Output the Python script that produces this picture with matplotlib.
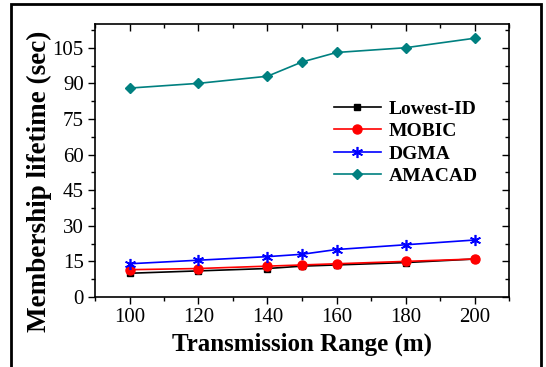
import matplotlib
matplotlib.use('Agg')
import matplotlib.pyplot as plt
from matplotlib.patches import Rectangle
from matplotlib.ticker import MultipleLocator

ranges = [100, 120, 140, 150, 160, 180, 200]
lowest_id = [10, 11, 12, 13, 13.5, 14.5, 16]
mobic = [11.5, 12, 13, 13.5, 14, 15, 16]
dgma = [14, 15.5, 17, 18, 20, 22, 24]
amacad = [88, 90, 93, 99, 103, 105, 109]

plt.rcParams['font.family'] = ['Liberation Serif', 'DejaVu Serif']

fig = plt.figure(figsize=(5.46, 3.67), dpi=100)
rect = [95 / 546, 1 - 297 / 367, 414 / 546, 273 / 367]
ax = fig.add_axes(rect)

# outer frame, open at the bottom like the cropped original
fig.patches.append(Rectangle((11 / 546, -0.05), 530 / 546, 1.05 - 4 / 367,
                             transform=fig.transFigure, fill=False,
                             edgecolor='black', linewidth=2))

ax.plot(ranges, lowest_id, color='black', marker='s', markersize=5, linewidth=1.2, label='Lowest-ID')
ax.plot(ranges, mobic, color='red', marker='o', markersize=6.5, linewidth=1.2, label='MOBIC')
ax.plot(ranges, dgma, color='blue', marker=(6, 2, 0), markersize=8, markeredgewidth=1.2,
        linewidth=1.2, label='DGMA')
ax.plot(ranges, amacad, color='#008080', marker='D', markersize=5.5, linewidth=1.2, label='AMACAD')

ax.set_xlim(90, 210)
ax.set_ylim(0, 115)
ax.xaxis.set_major_locator(MultipleLocator(20))
ax.xaxis.set_minor_locator(MultipleLocator(10))
ax.yaxis.set_major_locator(MultipleLocator(15))
ax.yaxis.set_minor_locator(MultipleLocator(7.5))
ax.tick_params(which='both', direction='out', labelsize=15, width=1, pad=3)
ax.tick_params(which='major', length=5)
ax.tick_params(which='minor', length=3)
for s in ax.spines.values():
    s.set_linewidth(1.2)

# second axes on top, only for the inward ticks on top and right
ax2 = fig.add_axes(rect, sharex=ax, sharey=ax)
ax2.patch.set_visible(False)
ax2.tick_params(which='both', direction='in', bottom=False, left=False, top=True, right=True,
                labelbottom=False, labelleft=False, width=1)
ax2.tick_params(which='major', length=5)
ax2.tick_params(which='minor', length=3)
for s in ax2.spines.values():
    s.set_visible(False)

ax.set_xlabel('Transmission Range (m)', fontsize=18, fontweight='bold', labelpad=4)
ax.set_ylabel('Membership lifetime (sec)', fontsize=19.5, fontweight='bold')
ax.yaxis.set_label_coords(-0.104, 0.425)

handles, labels = ax.get_legend_handles_labels()
ax.legend(handles, labels, loc='upper left', bbox_to_anchor=(0.535, 0.785), frameon=False,
          prop={'size': 14, 'weight': 'bold'}, handlelength=2.4, labelspacing=0.25,
          handletextpad=0.4)

fig.savefig('out.png', dpi=100)
